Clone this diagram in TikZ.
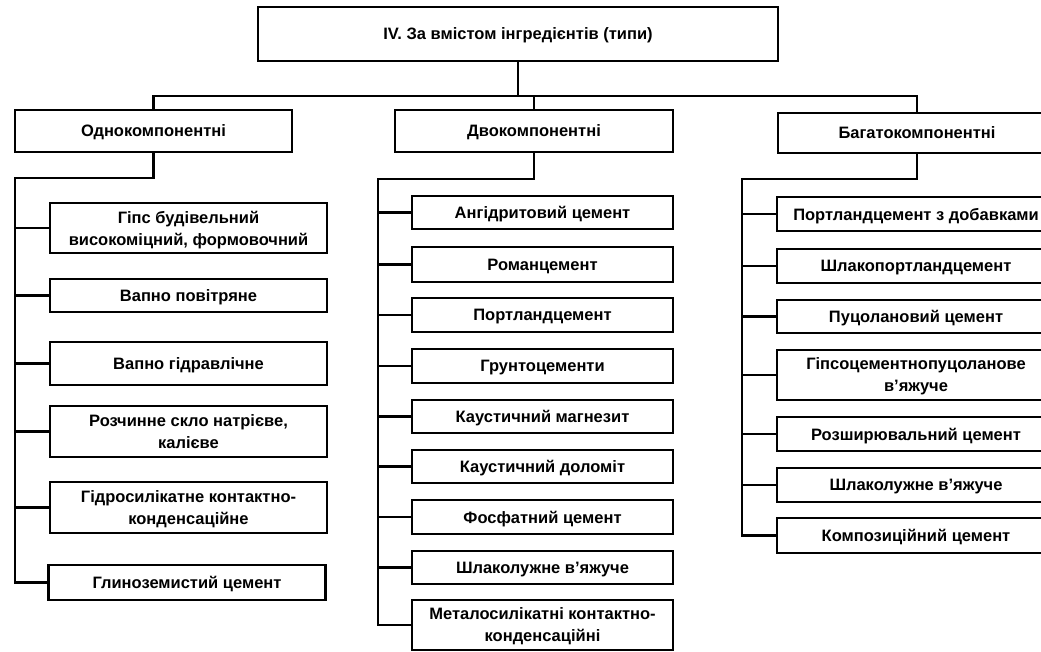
\documentclass[tikz,border=0pt]{standalone}
\usepackage{fontspec}
\setmainfont{Liberation Sans}
\usepackage{tikz}

\tikzset{
  box/.style={draw, line width=2.2pt, fill=white, align=center, inner sep=0pt,
    text depth=0pt, font=\bfseries\fontsize{16.5}{22}\selectfont},
  link/.style={line width=2.2pt}
}

\begin{document}
\begin{tikzpicture}[x=1pt,y=-1pt]
    \clip (0,0) rectangle (1041,652);
    \fill[white] (0,0) rectangle (1041,652);
    % top level and the three groups
    \node[box, minimum width=520pt, minimum height=54pt] (top) at (518,34) {IV. За вмістом інгредієнтів (типи)};
    \node[box, minimum width=277pt, minimum height=42pt] (one) at (153.5,131) {Однокомпонентні};
    \node[box, minimum width=278pt, minimum height=42pt] (two) at (534,131) {Двокомпонентні};
    \node[box, minimum width=278pt, minimum height=40pt] (many) at (917,133) {Багатокомпонентні};
    \draw[link] (top.south) -- ++(0,34) coordinate (bus);
    \draw[link] (one.north) |- (bus) -| (many.north);
    \draw[link] (two.north) -- (two.north |- bus);
    % one-component binders
    \node[box, minimum width=277pt, minimum height=50pt] (a1) at (188.5,228) {Гіпс будівельний\\високоміцний, формовочний};
    \node[box, minimum width=277pt, minimum height=33pt] (a2) at (188.5,295.5) {Вапно повітряне};
    \node[box, minimum width=277pt, minimum height=43pt] (a3) at (188.5,363.5) {Вапно гідравлічне};
    \node[box, minimum width=277pt, minimum height=51pt] (a4) at (188.5,431.5) {Розчинне скло натрієве,\\калієве};
    \node[box, minimum width=277pt, minimum height=51pt] (a5) at (188.5,507.5) {Гідросилікатне контактно-\\конденсаційне};
    \node[box, minimum width=277pt, minimum height=35pt] (a6) at (187,582.5) {Глиноземистий цемент};
    \coordinate (spineA) at (15,178);
    \draw[link] (one.south) |- (spineA) |- (a6.west);
    \foreach \n in {a1,a2,a3,a4,a5}
        \draw[link] (spineA |- \n.west) -- (\n.west);
    % two-component binders
    \node[box, minimum width=261pt, minimum height=33pt] (b1) at (542.5,212.5) {Ангідритовий цемент};
    \node[box, minimum width=261pt, minimum height=35pt] (b2) at (542.5,264.5) {Романцемент};
    \node[box, minimum width=261pt, minimum height=34pt] (b3) at (542.5,315) {Портландцемент};
    \node[box, minimum width=261pt, minimum height=34pt] (b4) at (542.5,366) {Грунтоцементи};
    \node[box, minimum width=261pt, minimum height=33pt] (b5) at (542.5,416.5) {Каустичний магнезит};
    \node[box, minimum width=261pt, minimum height=33pt] (b6) at (542.5,466.5) {Каустичний доломіт};
    \node[box, minimum width=261pt, minimum height=34pt] (b7) at (542.5,517) {Фосфатний цемент};
    \node[box, minimum width=261pt, minimum height=33pt] (b8) at (542.5,567.5) {Шлаколужне в'яжуче};
    \node[box, minimum width=261pt, minimum height=50pt] (b9) at (542.5,625) {Металосилікатні контактно-\\конденсаційні};
    \coordinate (spineB) at (378,179);
    \draw[link] (two.south) |- (spineB) |- (b9.west);
    \foreach \n in {b1,b2,b3,b4,b5,b6,b7,b8}
        \draw[link] (spineB |- \n.west) -- (\n.west);
    % multi-component binders
    \node[box, minimum width=278pt, minimum height=34pt] (c1) at (916,214) {Портландцемент з добавками};
    \node[box, minimum width=278pt, minimum height=34pt] (c2) at (916,266) {Шлакопортландцемент};
    \node[box, minimum width=278pt, minimum height=33pt] (c3) at (916,316.5) {Пуцолановий цемент};
    \node[box, minimum width=278pt, minimum height=50pt] (c4) at (916,375) {Гіпсоцементнопуцоланове\\в'яжуче};
    \node[box, minimum width=278pt, minimum height=34pt] (c5) at (916,434) {Розширювальний цемент};
    \node[box, minimum width=278pt, minimum height=34pt] (c6) at (916,485) {Шлаколужне в'яжуче};
    \node[box, minimum width=278pt, minimum height=35pt] (c7) at (916,535.5) {Композиційний цемент};
    \coordinate (spineC) at (742,179);
    \draw[link] (many.south) |- (spineC) |- (c7.west);
    \foreach \n in {c1,c2,c3,c4,c5,c6}
        \draw[link] (spineC |- \n.west) -- (\n.west);
\end{tikzpicture}
\end{document}
